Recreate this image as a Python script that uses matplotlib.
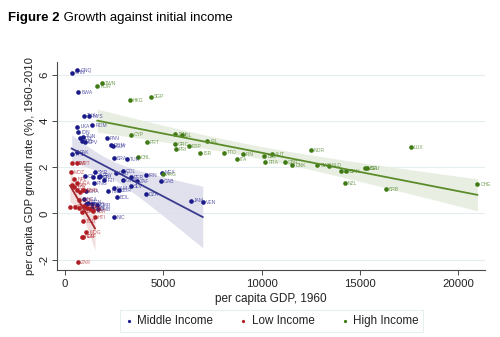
import numpy as np
import matplotlib
matplotlib.use("Agg")
import matplotlib.pyplot as plt

plt.rcParams['font.family'] = ['Liberation Sans', 'DejaVu Sans']

# ---- data: per capita GDP in 1960 and average growth 1960-2010 ----
mid_codes = ["CHN", "GNQ", "BWA", "THA", "MYS", "LKA", "ROM", "IDN", "EGY", "TUN",
             "CPV", "IND", "PAN", "DOM", "GUY", "PHL", "PAK", "BRA", "TUR", "COL",
             "SYR", "PRY", "CIV", "MAR", "CRI", "FJI", "ECU", "GTM", "PER", "IRN",
             "ZAF", "PNG", "SLV", "MEX", "GAB", "DZA", "BOL", "HND", "JOR", "NAM",
             "GHA", "JAM", "VEN", "NIC", "NGA", "SEN", "CMR", "ZMB", "SDN", "KEN",
             "LSO"]
mid_gdp = [341, 625, 676, 966, 1236, 625, 1388, 676, 763, 931,
           1017, 849, 2120, 2339, 2441, 381, 610, 2492, 3168, 2934,
           1526, 1780, 1017, 1439, 1744, 1998, 2593, 2934, 3341, 4104,
           3646, 1475, 3341, 4917, 4866, 4119, 2629, 2202, 2761, 2492,
           1068, 6407, 7002, 2492, 966, 1185, 1612, 1693, 1358, 1053,
           1388]
mid_growth = [6.09, 6.20, 5.26, 4.23, 4.21, 3.75, 3.82, 3.53, 3.25, 3.32,
              3.07, 3.13, 3.25, 2.96, 2.90, 2.55, 2.65, 2.38, 2.34, 1.84,
              1.77, 1.63, 1.61, 1.56, 1.58, 1.44, 1.73, 1.44, 1.56, 1.66,
              1.41, 1.30, 1.18, 1.76, 1.40, 0.84, 0.69, 0.97, 1.01, 1.08,
              0.97, 0.55, 0.50, -0.15, 0.61, 0.46, 0.36, 0.17, 0.22, 0.39,
              0.40]

low_codes = ["MOZ", "MWI", "MRT", "NPL", "BGD", "UGA", "TZA", "BFA", "MLI", "GMB",
             "BEN", "TGO", "RWA", "GIN", "ETH", "COM", "SLE", "BDI", "LBR", "HTI",
             "TCD", "MDG", "NER", "CAF", "ZAR"]
low_gdp = [305, 371, 595, 473, 371, 595, 458, 625, 763, 931,
           727, 254, 509, 712, 981, 1103, 1271, 849, 1439, 1526,
           931, 1093, 849, 931, 676]
low_growth = [1.80, 2.19, 2.19, 1.47, 1.23, 1.30, 1.15, 1.01, 0.94, 1.01,
              0.58, 0.26, 0.29, 0.22, 0.32, 0.22, 0.19, 0.07, 0.11, -0.15,
              -0.32, -0.82, -1.01, -1.01, -2.12]

high_codes = ["KOR", "TWN", "HKG", "SGP", "CYP", "PRT", "JPN", "ISL", "GRC", "PRI",
              "ESP", "IRL", "ISR", "TTO", "ITA", "FIN", "BEL", "AUT", "FRA", "GBR",
              "DNK", "NOR", "SWE", "NLD", "AUS", "CAN", "USA", "DEU", "NZL", "BRB",
              "LUX", "CHE", "CHL", "ARG"]
high_gdp = [1642, 1866, 3290, 4373, 3356, 4154, 5594, 5934, 5594, 5644,
            6305, 7221, 6890, 8095, 8731, 9036, 10135, 10511, 10185, 11187,
            11558, 12509, 12829, 13424, 14045, 14314, 15230, 15342, 14238, 16323,
            17579, 20966, 3697, 4968]
high_growth = [5.51, 5.65, 4.89, 5.05, 3.41, 3.07, 3.42, 3.37, 3.00, 2.77,
               2.91, 3.13, 2.62, 2.63, 2.34, 2.57, 2.48, 2.57, 2.21, 2.22,
               2.10, 2.74, 2.08, 2.07, 1.84, 1.84, 1.96, 1.96, 1.31, 1.04,
               2.88, 1.27, 2.42, 1.69]

groups = [
    ("Middle Income", mid_codes, mid_gdp, mid_growth, "#1a1a8a", "#3b3b8e", "#dcdcec"),
    ("Low Income", low_codes, low_gdp, low_growth, "#b01e24", "#a3262b", "#f1d9d9"),
    ("High Income", high_codes, high_gdp, high_growth, "#3f7a14", "#5a8c2a", "#e4ecdd"),
]

x_ticks = [0, 5000, 10000, 15000, 20000]
y_ticks = [-2, 0, 2, 4, 6]


def t975(df):
    # two-sided 95% Student t quantile (small table + normal tail)
    table = {20: 2.086, 21: 2.080, 22: 2.074, 23: 2.069, 24: 2.064, 25: 2.060,
             26: 2.056, 27: 2.052, 28: 2.048, 29: 2.045, 30: 2.042, 31: 2.040,
             32: 2.037, 40: 2.021, 49: 2.010, 50: 2.009}
    if df in table:
        return table[df]
    return 1.96 + 2.4 / df


def linear_fit_ci(x, y):
    x = np.asarray(x, float)
    y = np.asarray(y, float)
    n = len(x)
    b, a = np.polyfit(x, y, 1)
    resid = y - (a + b * x)
    s = np.sqrt(np.sum(resid ** 2) / (n - 2))
    xm = x.mean()
    sxx = np.sum((x - xm) ** 2)
    xs = np.linspace(x.min(), x.max(), 120)
    yhat = a + b * xs
    half = t975(n - 2) * s * np.sqrt(1.0 / n + (xs - xm) ** 2 / sxx)
    return xs, yhat, yhat - half, yhat + half


fig = plt.figure(figsize=(5.0, 3.37), dpi=100)
ax = fig.add_axes([0.114, 0.199, 0.856, 0.617])

handles = []
for name, codes, gx, gy, col, lcol, bcol in groups:
    xs, yhat, lo, hi = linear_fit_ci(gx, gy)
    ax.fill_between(xs, lo, hi, color=bcol, alpha=0.85, lw=0, zorder=1)
    h = ax.scatter(gx, gy, s=11, color=col, lw=0, zorder=3, label=name)
    handles.append(h)
    ax.plot(xs, yhat, color=lcol, lw=1.3, zorder=4)
    for c, xv, yv in zip(codes, gx, gy):
        ax.annotate(c, (xv, yv), xytext=(2.2, -0.2), textcoords="offset points",
                    fontsize=3.6, color=col, alpha=0.7, va="center", ha="left",
                    zorder=5)

ax.set_xlim(-407, 21357)
ax.set_ylim(-2.45, 6.55)
ax.set_xticks(x_ticks)
ax.set_xticklabels([str(v) for v in x_ticks])
ax.set_yticks(y_ticks)
ax.set_yticklabels([str(v) for v in y_ticks], rotation=90, va="center")
ax.grid(axis="y", color="#e6edf0", lw=0.8, zorder=0)
ax.set_axisbelow(True)

for side in ["top", "right"]:
    ax.spines[side].set_visible(False)
for side in ["left", "bottom"]:
    ax.spines[side].set_color("#4a4a4a")
    ax.spines[side].set_linewidth(0.8)
ax.tick_params(axis="both", colors="#4a4a4a", labelcolor="#222222",
               length=3.5, width=0.7, labelsize=8.2)
ax.tick_params(axis="y", pad=2)
ax.tick_params(axis="x", pad=3)

ax.set_xlabel("per capita GDP, 1960", fontsize=8.5, color="#222222", labelpad=3)
ax.set_ylabel("per capita GDP growth rate (%), 1960-2010", fontsize=8.1,
              color="#222222", labelpad=3)

leg = fig.legend(handles=handles, labels=[g[0] for g in groups],
                 loc="center", bbox_to_anchor=(0.543, 0.0475), ncol=3,
                 fontsize=8.4, frameon=True, fancybox=False, handletextpad=0.3,
                 columnspacing=2.2, markerscale=0.7, borderpad=0.4,
                 handlelength=0.8)
leg.get_frame().set_edgecolor("#e3ebee")
leg.get_frame().set_linewidth(0.8)
for t in leg.get_texts():
    t.set_color("#222222")

t1 = fig.text(0.016, 0.947, "Figure 2", fontsize=9.5, fontweight="bold",
              va="center", ha="left")
fig.canvas.draw()
bb = t1.get_window_extent()
x2 = fig.transFigure.inverted().transform((bb.x1, bb.y0))[0]
fig.text(x2, 0.947, " Growth against initial income", fontsize=9.5,
         va="center", ha="left")

fig.savefig("out.png", dpi=100)
